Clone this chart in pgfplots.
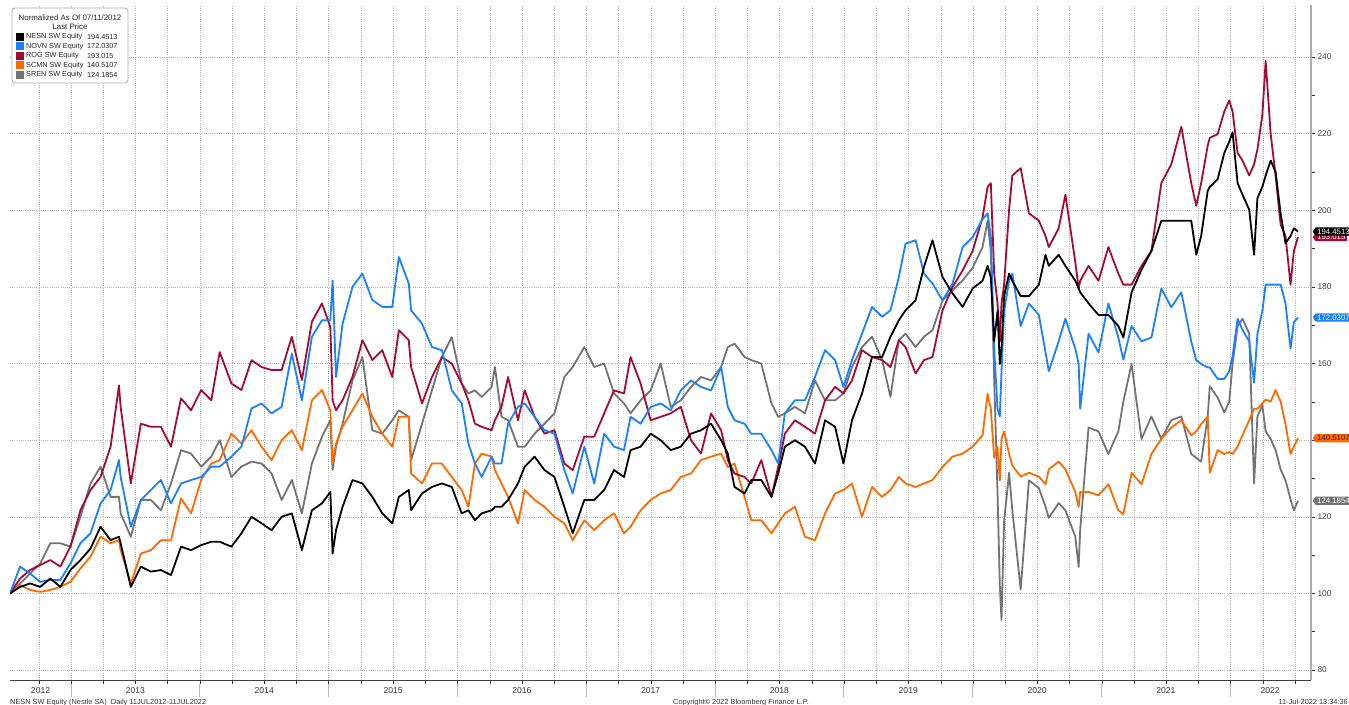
\documentclass[border=0pt]{standalone}
\usepackage{pgfplots}
\pgfplotsset{compat=1.18}
\usepackage{pgfplotstable}
\usepackage{fontspec}
\setmainfont{Liberation Sans}
\usetikzlibrary{shapes.symbols}

\definecolor{nesnc}{RGB}{0,0,0}
\definecolor{novnc}{RGB}{26,128,255}
\definecolor{rogc}{RGB}{165,10,55}
\definecolor{scmnc}{RGB}{255,105,0}
\definecolor{srenc}{RGB}{115,115,115}

\pgfplotstableread{
t nesn novn rog scmn sren
2012.526 100 100 100 100 100
2012.604 101.7 107.0 103.9 102.2 102.6
2012.682 102.6 105.2 106.1 100.9 105.2
2012.760 101.7 103.0 107.4 100.4 107.8
2012.839 103.9 103.5 108.7 100.9 113.1
2012.917 101.7 103.5 107.0 101.7 113.1
2012.995 106.1 107.8 112.2 103.0 112.2
2013.073 108.7 113.1 121.7 106.5 120.0
2013.151 111.7 115.7 127.0 109.6 128.7
2013.229 117.4 123.5 130.4 114.8 133.1
2013.307 113.9 127.0 138.3 113.1 125.2
2013.372 114.8 134.8 154.3 113.9 125.2
2013.385 113.1 130.4 148.7 111.3 120.9
2013.464 101.7 117.4 128.7 102.6 114.8
2013.542 107.0 124.4 144.3 110.4 124.4
2013.620 105.7 127.0 143.5 111.3 124.4
2013.698 106.1 129.6 143.5 113.9 121.7
2013.776 104.8 123.5 138.3 113.9 128.7
2013.854 112.2 128.7 150.9 124.8 137.4
2013.932 111.3 129.6 147.8 120.9 136.5
2014.010 112.6 130.4 153.1 129.6 133.1
2014.089 113.5 133.1 150.4 133.9 135.7
2014.154 113.5 133.1 163.0 134.8 140.0
2014.245 112.2 135.7 154.8 141.7 130.4
2014.323 115.7 138.3 153.1 139.1 133.1
2014.401 120.0 148.3 160.9 142.6 134.4
2014.479 118.3 149.6 159.1 138.3 133.9
2014.557 116.5 147.0 158.3 134.8 131.3
2014.635 120.0 148.7 158.3 140.0 124.4
2014.714 120.9 162.6 167.0 142.6 129.6
2014.792 111.3 150.4 155.7 137.4 120.9
2014.870 121.7 167.0 170.9 150.4 133.9
2014.948 123.5 171.3 175.7 153.1 140.9
2015.013 126.5 171.3 169.6 147.8 145.2
2015.031 110.4 181.7 150.4 133.9 132.2
2015.057 116.5 156.5 147.8 139.1 138.3
2015.108 122.6 170.4 150.4 143.5 144.3
2015.185 129.6 180.0 156.5 147.8 155.6
2015.262 128.7 183.5 166.1 152.2 161.7
2015.339 125.2 176.6 160.9 146.1 142.6
2015.416 120.9 174.8 163.5 141.7 141.7
2015.494 118.3 174.8 156.5 138.3 145.2
2015.545 125.2 187.8 168.7 146.1 147.8
2015.622 127.0 180.9 166.1 146.1 146.1
2015.640 121.7 173.9 159.1 131.3 134.8
2015.725 126.1 170.4 149.6 128.7 144.3
2015.802 127.8 164.3 156.5 133.9 153.0
2015.879 128.7 163.5 161.7 133.9 161.7
2015.956 127.8 153.0 160.0 130.4 166.9
2016.033 120.9 149.6 154.8 127.0 154.8
2016.085 121.7 139.1 150.4 122.6 152.2
2016.136 119.1 133.9 144.3 133.9 153.0
2016.188 120.9 130.4 143.5 136.5 151.3
2016.265 121.7 135.7 142.6 135.7 153.9
2016.291 122.6 133.9 145.2 132.2 159.1
2016.342 122.6 133.9 148.7 128.7 146.1
2016.393 124.4 144.3 156.5 125.2 145.2
2016.470 128.7 148.7 145.2 118.3 138.3
2016.522 133.1 149.6 153.0 127.0 138.3
2016.599 135.7 146.1 146.1 124.4 141.7
2016.676 132.2 142.6 141.7 122.6 144.3
2016.753 130.4 141.7 142.6 120.0 147.0
2016.830 122.6 132.2 133.9 118.3 156.5
2016.895 115.7 126.1 132.2 113.9 159.1
2016.985 124.4 138.3 140.9 119.1 164.3
2017.062 124.4 128.7 140.9 116.5 159.1
2017.139 127.0 141.7 147.0 119.1 160.0
2017.216 132.2 138.3 153.0 120.9 152.2
2017.293 130.4 137.4 152.2 115.7 149.6
2017.344 137.4 146.1 161.7 117.4 147.0
2017.422 138.3 144.3 154.8 121.7 150.4
2017.500 141.7 148.7 145.2 124.4 153.0
2017.578 140.0 149.6 146.1 126.1 160.0
2017.656 137.4 147.8 147.0 127.0 148.7
2017.734 138.3 153.0 148.7 130.4 150.4
2017.813 141.7 155.6 140.0 131.3 153.9
2017.891 142.6 153.9 136.5 134.8 156.5
2017.969 144.3 153.0 147.0 135.7 155.6
2018.047 140.0 159.1 142.6 136.5 159.1
2018.099 136.5 148.7 134.8 133.0 164.3
2018.151 127.8 145.2 131.3 133.9 165.2
2018.229 126.1 144.3 130.4 125.2 161.7
2018.281 129.6 141.7 128.7 119.1 160.9
2018.359 129.6 141.7 134.8 119.1 160.0
2018.438 125.2 137.4 125.2 115.7 149.6
2018.490 131.3 133.9 133.0 118.3 146.1
2018.542 138.3 147.0 141.7 120.9 147.0
2018.620 140.0 150.4 145.2 122.6 148.7
2018.698 138.3 150.4 143.5 114.8 147.0
2018.776 133.9 156.5 141.7 113.9 155.6
2018.854 145.2 163.5 150.4 120.9 150.4
2018.932 143.5 160.9 153.9 126.1 150.4
2018.997 133.9 153.9 152.2 127.0 152.2
2019.063 145.2 160.9 155.6 128.7 159.1
2019.141 152.2 167.8 163.5 120.0 164.3
2019.219 161.7 174.8 161.7 127.8 167.0
2019.297 161.7 172.2 160.9 125.2 160.9
2019.362 167.0 173.9 159.1 127.0 151.3
2019.427 171.3 182.6 166.1 130.4 166.1
2019.479 173.9 191.3 164.3 128.7 167.8
2019.557 176.5 192.2 157.4 127.8 164.3
2019.622 185.2 183.5 160.9 128.7 167.0
2019.688 192.2 180.9 161.7 129.6 168.7
2019.766 182.6 176.5 173.9 133.0 176.5
2019.844 178.3 180.9 180.0 135.7 179.1
2019.922 174.8 190.4 184.3 136.5 181.7
2020.000 179.6 193.0 189.4 138.3 185.0
2020.077 181.6 197.7 198.2 141.3 190.4
2020.116 185.5 199.2 206.1 152.1 197.3
2020.141 182.5 193.3 207.1 148.2 189.4
2020.167 165.8 163.9 183.5 135.4 156.0
2020.193 173.7 148.2 175.7 138.3 126.5
2020.211 159.9 146.2 165.8 129.5 102.0
2020.224 163.9 158.0 175.7 140.3 93.1
2020.244 177.6 173.7 180.6 142.3 118.7
2020.283 183.5 181.6 200.2 136.4 131.5
2020.308 181.6 183.5 209.1 133.4 121.7
2020.373 177.6 169.8 211.0 130.5 101.0
2020.437 177.6 175.7 199.2 131.5 129.5
2020.514 180.6 172.7 197.3 130.5 127.5
2020.566 188.4 162.9 193.3 128.5 122.6
2020.591 185.5 158.0 190.4 132.4 119.7
2020.668 188.4 165.8 195.3 134.4 123.6
2020.720 185.5 171.7 204.1 132.4 121.7
2020.797 181.6 163.9 186.5 126.5 114.8
2020.823 179.6 159.9 179.6 122.6 106.9
2020.835 178.6 148.2 181.6 126.5 116.7
2020.900 175.7 167.8 185.5 126.5 143.3
2020.977 172.7 162.9 181.6 125.6 142.3
2021.054 172.7 175.7 190.4 128.5 136.4
2021.131 169.8 166.8 183.5 121.7 142.3
2021.170 166.8 161.0 180.6 120.7 150.1
2021.234 178.6 169.8 180.6 131.5 159.9
2021.311 184.5 165.8 185.5 128.5 140.3
2021.388 189.4 166.8 189.4 136.4 146.2
2021.465 197.3 179.6 207.1 140.3 140.3
2021.542 197.3 174.7 212.0 143.3 145.2
2021.620 197.3 178.6 221.8 145.2 146.2
2021.697 197.3 165.8 207.1 141.3 136.4
2021.736 188.4 160.9 201.2 142.3 135.4
2021.774 193.3 159.9 207.1 144.2 134.4
2021.825 205.1 159.0 216.9 146.2 146.2
2021.841 206.1 159.0 218.9 131.5 154.1
2021.902 208.1 156.0 219.9 137.4 151.1
2021.954 215.0 156.0 225.8 136.4 147.2
2021.992 217.9 158.0 228.7 136.9 150.1
2022.018 220.4 161.9 225.8 136.4 159.9
2022.057 207.1 171.7 215.0 138.3 169.8
2022.095 204.1 168.8 213.0 141.3 171.7
2022.147 200.2 165.8 209.1 145.2 167.8
2022.185 188.4 155.0 212.0 148.2 128.7
2022.211 203.2 167.8 215.9 148.2 146.2
2022.249 206.1 173.7 224.8 149.6 149.1
2022.275 209.1 180.6 239.0 150.6 142.3
2022.314 213.0 180.6 219.9 150.1 140.3
2022.352 210.0 180.6 209.1 153.1 137.4
2022.391 199.2 180.6 196.3 150.1 132.4
2022.429 191.4 175.7 193.3 144.2 129.5
2022.468 193.3 163.9 180.6 136.4 124.6
2022.494 195.3 170.8 189.4 138.3 121.7
2022.526 194.4513 172.0307 193.015 140.5107 124.1854
}\stocks

\tikzset{
  tag/.style={signal, signal to=west, signal pointer angle=110, inner xsep=1.6bp, inner ysep=1.4bp,
    font=\fontsize{7.8}{8}\selectfont, anchor=west, xshift=1.5bp},
  yearlab/.style={font=\fontsize{8.6}{9}\selectfont, text=black!80, anchor=center, yshift=-10.5bp},
  sep/.style={draw=gray!55, line width=0.9bp},
  leg/.style={font=\fontsize{7.3}{8}\selectfont, text=black!85, inner sep=0pt},
  legt/.style={font=\fontsize{7.9}{8}\selectfont, text=black!85, inner sep=0pt}
}

\begin{document}
\begin{tikzpicture}
\begin{axis}[
  scale only axis, width=1301bp, height=675bp,
  at={(10bp,25bp)}, anchor=south west,
  xmin=2012.526, xmax=2022.627, ymin=77.4, ymax=253.6,
  axis x line*=bottom, axis y line*=right,
  x axis line style={draw=black!75, line width=0.8bp, -},
  y axis line style={draw=gray!65, line width=2bp, -},
  xtick={2012.75,2013,...,2022.5},
  xticklabels={},
  minor x tick num=2,
  ytick={80,100,...,240},
  yticklabels={80,100,120,,160,180,200,220,240},
  minor y tick num=1,
  yticklabel pos=right,
  tick align=outside,
  major tick length=4bp, minor tick length=3.5bp,
  every tick/.style={black!80, line width=0.6bp},
  grid=major,
  major grid style={gray!60, dash pattern=on 0.8bp off 1.4bp, line width=0.6bp},
  /pgf/number format/assume math mode=true,
  yticklabel style={font=\fontsize{8.4}{9}\selectfont, text=black!75, anchor=west, xshift=-1bp},
  clip mode=individual,
  every axis plot/.append style={line width=1.8bp, line join=round, no marks},
]
\addplot[srenc] table[x=t,y=sren]{\stocks};
\addplot[scmnc] table[x=t,y=scmn]{\stocks};
\addplot[rogc] table[x=t,y=rog]{\stocks};
\addplot[novnc] table[x=t,y=novn]{\stocks};
\addplot[nesnc] table[x=t,y=nesn]{\stocks};

% year labels
\node[yearlab] at (axis cs:2012.763,77.4) {2012};
\node[yearlab] at (axis cs:2013.5,77.4) {2013};
\node[yearlab] at (axis cs:2014.5,77.4) {2014};
\node[yearlab] at (axis cs:2015.5,77.4) {2015};
\node[yearlab] at (axis cs:2016.5,77.4) {2016};
\node[yearlab] at (axis cs:2017.5,77.4) {2017};
\node[yearlab] at (axis cs:2018.5,77.4) {2018};
\node[yearlab] at (axis cs:2019.5,77.4) {2019};
\node[yearlab] at (axis cs:2020.5,77.4) {2020};
\node[yearlab] at (axis cs:2021.5,77.4) {2021};
\node[yearlab] at (axis cs:2022.31,77.4) {2022};
\pgfplotsinvokeforeach{2013,2014,2015,2016,2017,2018,2019,2020,2021,2022}{
  \draw[sep] (axis cs:#1,77.4) ++(0bp,-4bp) -- ++(0bp,-13bp);
}

% last value tags
\node[tag, fill=rogc, text=white] at (axis cs:2022.627,193.015) {193.015};
\node[tag, fill=nesnc, text=white] at (axis cs:2022.627,194.4513) {194.4513};
\node[tag, fill=novnc, text=white] at (axis cs:2022.627,172.0307) {172.0307};
\node[tag, fill=scmnc, text=black!85] at (axis cs:2022.627,140.5107) {140.5107};
\node[tag, fill=srenc, text=white] at (axis cs:2022.627,124.1854) {124.1854};
\end{axis}

% legend box
\draw[rounded corners=3bp, draw=gray!65, fill=white, line width=0.8bp] (12bp,622bp) rectangle (128bp,697bp);
\node[legt, anchor=center] at (70bp,687.5bp) {Normalized As Of 07/11/2012};
\node[legt, anchor=center] at (70bp,678bp) {Last Price};
\foreach \c/\n/\v/\yy in {nesnc/NESN/194.4513/668, novnc/NOVN/172.0307/658.5, rogc/ROG/193.015/649, scmnc/SCMN/140.5107/639.5, srenc/SREN/124.1854/630}{
  \fill[\c] (16bp,\yy bp-4bp) rectangle (24bp,\yy bp+4bp);
  \node[leg, anchor=west] at (26bp,\yy bp) {\n\ SW Equity};
  \node[leg, anchor=west] at (87bp,\yy bp) {\v};
}

% footer texts
\node[font=\fontsize{7.4}{8}\selectfont, text=black!80, anchor=base west, inner sep=0pt] at (10bp,0.5bp) {NESN SW Equity (Nestle SA)\ \ Daily 11JUL2012-11JUL2022};
\node[font=\fontsize{7.4}{8}\selectfont, text=black!80, anchor=base, inner sep=0pt] at (741bp,0.5bp) {Copyright© 2022 Bloomberg Finance L.P.};
\node[font=\fontsize{7.4}{8}\selectfont, text=black!80, anchor=base east, inner sep=0pt] at (1348bp,0.5bp) {11-Jul-2022 13:34:36};

\pgfresetboundingbox
\path (0,0) rectangle (1349bp,705bp);
\end{tikzpicture}
\end{document}
